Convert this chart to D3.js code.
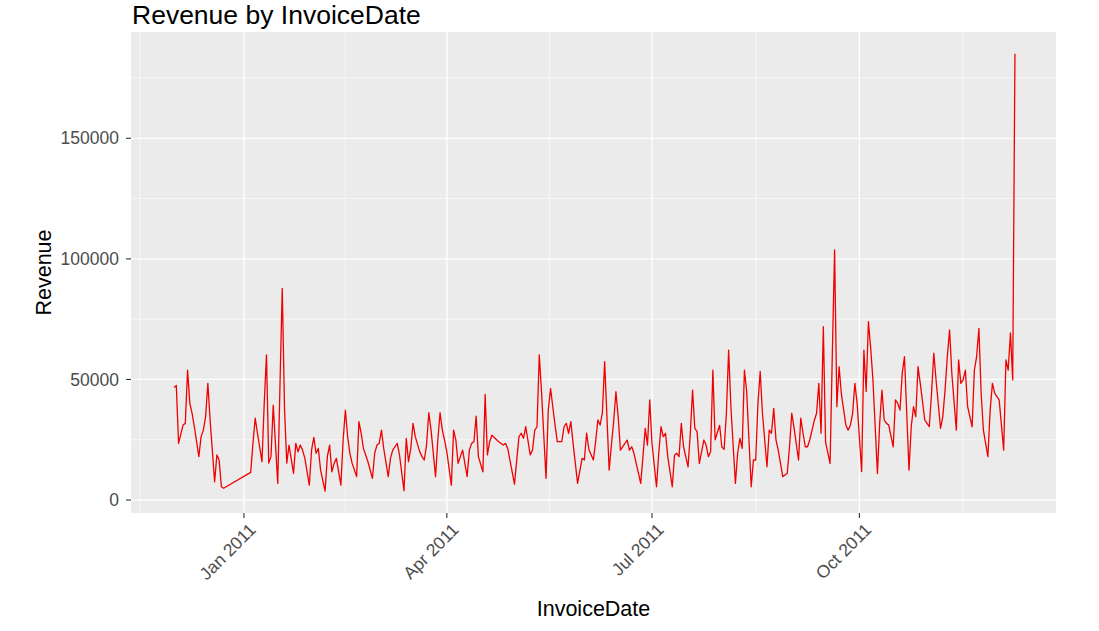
<!DOCTYPE html>
<html>
<head>
<meta charset="utf-8">
<script src="https://cdn.jsdelivr.net/npm/d3@7"></script>
<style>
  body { margin: 0; background: #ffffff; }
  text { font-family: "Liberation Sans", Arial, sans-serif; }
</style>
</head>
<body>
<svg id="chart" width="1099" height="631"></svg>
<script>
// ---------------- DATA (daily revenue) ----------------
const rev2010Dec = [46700, 47500, 23500, 31100, 31800, 53900, 40100, 35900, 30400, 18000,
                    26300, 29000, 34500, 48400, 33200, 7600, 18700, 16600, 5500, 4900];
const rev2011Jan = [11500, 23500, 34000, 27700, 15900, 40000, 60200, 15300, 18000, 39400,
                    6900, 48000, 87800, 38000, 15300, 22800, 11100, 23500, 20000, 22800,
                    20700, 17400, 6200, 20700];
const rev2011Feb = [26000, 19400, 21400, 12400, 3700, 18000, 22800, 11700, 15200, 17300,
                    6200, 24900, 37300, 26300, 19400, 15200, 9700, 32500, 27700, 21400,
                    18700, 15900, 9000, 19400];
const rev2011Mar = [22800, 23500, 29000, 21400, 9700, 17300, 20700, 22100, 23500, 18700,
                    3900, 25600, 15900, 21400, 31800, 26300, 20000, 18000, 16600, 22800,
                    36200, 29000, 9700, 24900, 36200, 29000, 24900];
const rev2011Apr = [20000, 6200, 29000, 24900, 15200, 18000, 20700, 9700, 20700, 23500,
                    24200, 34800, 18000, 11700, 43800, 18700, 24200, 26900, 24200, 22800,
                    23500, 21400];
const rev2011May = [6600, 26300, 27700, 25600, 30400, 18700, 20700, 29000, 30400, 60200,
                    44900, 9000, 37300, 46300, 38700, 31100, 24200, 24200, 30400, 31800,
                    27700, 32500, 23500, 6900, 17300];
const rev2011Jun = [16600, 27700, 21000, 16600, 24200, 33200, 31100, 36200, 57400, 12400,
                    22800, 32500, 44900, 34600, 20700, 23500, 24900, 20700, 22100, 19400,
                    15200, 6900, 18000, 29700, 22800, 41500];
const rev2011Jul = [23500, 5500, 19400, 30400, 26300, 27700, 18000, 5500, 18700, 19400,
                    18000, 31800, 22100, 13800, 27700, 45600, 29700, 28400, 15200, 24900,
                    22800, 18000, 20000, 53900, 25000, 31000];
const rev2011Aug = [22000, 21000, 36000, 62200, 38700, 6900, 19400, 25600, 21400, 53900,
                    45000, 5500, 16600, 16600, 40100, 53300, 36000, 13800, 29000, 27700,
                    38000, 24900, 20700, 9700, 11100, 22100];
const rev2011Sep = [36000, 30000, 16600, 34000, 27700, 22100, 22100, 25000, 33000, 36000,
                    48400, 27700, 71900, 24000, 15200, 60900, 103700, 38700, 55300, 44000,
                    31100, 29000, 31000, 36000, 48400, 40000];
const rev2011Oct = [11800, 62200, 45000, 74000, 63000, 50000, 11000, 31800, 45600, 33200,
                    31800, 31100, 22100, 41500, 40100, 37300, 52500, 59500, 12400, 30400,
                    38700, 34600, 55300, 48400, 33200, 31800];
const rev2011Nov = [30400, 44300, 60900, 49800, 29700, 34600, 45600, 59500, 70500, 52500,
                    29000, 58100, 48400, 49800, 53900, 38700, 30400, 53900, 59500, 71200,
                    44300, 29000, 18000, 37300, 48400, 44300];
const rev2011Dec = [42900, 41500, 20700, 58100, 53900, 69300, 49800, 185000];

// months the arrays belong to (trading days: no Saturdays, no closed days)
const monthKeys = ["2010-12", "2011-01", "2011-02", "2011-03", "2011-04", "2011-05",
                   "2011-06", "2011-07", "2011-08", "2011-09", "2011-10", "2011-11", "2011-12"];
const monthValues = [rev2010Dec, rev2011Jan, rev2011Feb, rev2011Mar, rev2011Apr, rev2011May,
                     rev2011Jun, rev2011Jul, rev2011Aug, rev2011Sep, rev2011Oct, rev2011Nov, rev2011Dec];
const closedDays = ["2010-12-24", "2010-12-25", "2010-12-26", "2010-12-27", "2010-12-28",
                    "2010-12-29", "2010-12-30", "2010-12-31", "2011-01-01", "2011-01-02",
                    "2011-01-03", "2011-04-22", "2011-04-25", "2011-04-29", "2011-05-02",
                    "2011-05-30", "2011-08-29"];

const xTickDates  = ["2011-01-01", "2011-04-01", "2011-07-01", "2011-10-01"];
const xTickLabels = ["Jan 2011", "Apr 2011", "Jul 2011", "Oct 2011"];
const xBreakBounds = ["2010-10-01", "2012-01-01"];
const yTickValues = [0, 50000, 100000, 150000];
const yTickLabels = ["0", "50000", "100000", "150000"];
const yMinorValues = [25000, 75000, 125000, 175000];

const titleText = "Revenue by InvoiceDate";
const xTitle = "InvoiceDate";
const yTitle = "Revenue";

// ---------------- BUILD ROWS ----------------
const parse = d3.utcParse("%Y-%m-%d");
const fmt = d3.utcFormat("%Y-%m-%d");
const closed = new Set(closedDays);
const data = [];
monthKeys.forEach((ym, k) => {
  const vals = monthValues[k];
  const [yy, mm] = ym.split("-").map(Number);
  let i = 0;
  for (let d = 1; d <= 31 && i < vals.length; d++) {
    const dt = new Date(Date.UTC(yy, mm - 1, d));
    if (dt.getUTCMonth() !== mm - 1) break;
    if (dt.getUTCDay() === 6 || closed.has(fmt(dt))) continue;
    data.push({ date: dt, value: vals[i++] });
  }
});

// ---------------- LAYOUT ----------------
const panel = { left: 131, right: 1056, top: 32, bottom: 513 };
const svg = d3.select("#chart");

const xExt = d3.extent(data, d => d.date);
const xPad = (xExt[1] - xExt[0]) * 0.05;
const x = d3.scaleUtc()
  .domain([new Date(+xExt[0] - xPad), new Date(+xExt[1] + xPad)])
  .range([panel.left + 1, panel.right + 1]);

const yExt = d3.extent(data, d => d.value);
const yPad = (yExt[1] - yExt[0]) * 0.05;
const y = d3.scaleLinear()
  .domain([yExt[0] - yPad, yExt[1] + yPad])
  .range([panel.bottom, panel.top]);

// panel background
svg.append("rect")
  .attr("x", panel.left).attr("y", panel.top)
  .attr("width", panel.right - panel.left)
  .attr("height", panel.bottom - panel.top)
  .attr("fill", "#EBEBEB");

// minor grid
const majorDates = xTickDates.map(parse);
const allBreaks = [parse(xBreakBounds[0]), ...majorDates, parse(xBreakBounds[1])];
const minorDates = d3.pairs(allBreaks).map(([a, b]) => new Date((+a + +b) / 2))
  .filter(d => d >= x.domain()[0] && d <= x.domain()[1]);

const grid = svg.append("g");
grid.selectAll(".ymin").data(yMinorValues).join("line")
  .attr("x1", panel.left).attr("x2", panel.right)
  .attr("y1", d => y(d)).attr("y2", d => y(d))
  .attr("stroke", "#ffffff").attr("stroke-width", 0.6);
grid.selectAll(".xmin").data(minorDates).join("line")
  .attr("y1", panel.top).attr("y2", panel.bottom)
  .attr("x1", d => x(d)).attr("x2", d => x(d))
  .attr("stroke", "#ffffff").attr("stroke-width", 0.6);
// major grid
grid.selectAll(".ymaj").data(yTickValues).join("line")
  .attr("x1", panel.left).attr("x2", panel.right)
  .attr("y1", d => y(d)).attr("y2", d => y(d))
  .attr("stroke", "#ffffff").attr("stroke-width", 1.3);
grid.selectAll(".xmaj").data(majorDates).join("line")
  .attr("y1", panel.top).attr("y2", panel.bottom)
  .attr("x1", d => x(d)).attr("x2", d => x(d))
  .attr("stroke", "#ffffff").attr("stroke-width", 1.3);

// line
const line = d3.line().x(d => x(d.date)).y(d => y(d.value));
svg.append("path")
  .datum(data)
  .attr("d", line)
  .attr("fill", "none")
  .attr("stroke", "#F00000")
  .attr("stroke-width", 1.3)
  .attr("stroke-linejoin", "round");

// y axis ticks + labels
const yAxis = svg.append("g");
yAxis.selectAll("line").data(yTickValues).join("line")
  .attr("x1", panel.left - 5).attr("x2", panel.left)
  .attr("y1", d => y(d)).attr("y2", d => y(d))
  .attr("stroke", "#333333").attr("stroke-width", 1.1);
yAxis.selectAll("text").data(yTickValues).join("text")
  .attr("x", panel.left - 12)
  .attr("y", d => y(d))
  .attr("dy", "0.35em")
  .attr("text-anchor", "end")
  .attr("font-size", "17.5px")
  .attr("fill", "#4D4D4D")
  .text((d, i) => yTickLabels[i]);

// x axis ticks + labels
const xAxis = svg.append("g");
xAxis.selectAll("line").data(majorDates).join("line")
  .attr("x1", d => x(d)).attr("x2", d => x(d))
  .attr("y1", panel.bottom).attr("y2", panel.bottom + 5)
  .attr("stroke", "#333333").attr("stroke-width", 1.1);
xAxis.selectAll("text").data(majorDates).join("text")
  .attr("transform", d => `translate(${x(d) + 4},${panel.bottom + 9}) rotate(-45)`)
  .attr("dy", "0.72em")
  .attr("text-anchor", "end")
  .attr("font-size", "17.5px")
  .attr("fill", "#4D4D4D")
  .text((d, i) => xTickLabels[i]);

// titles
svg.append("text")
  .attr("x", 132).attr("y", 24)
  .attr("font-size", "26.5px")
  .attr("fill", "#000000")
  .text(titleText);

svg.append("text")
  .attr("x", (panel.left + panel.right) / 2)
  .attr("y", 616)
  .attr("text-anchor", "middle")
  .attr("font-size", "21.5px")
  .attr("fill", "#000000")
  .text(xTitle);

svg.append("text")
  .attr("transform", `translate(51,${(panel.top + panel.bottom) / 2}) rotate(-90)`)
  .attr("text-anchor", "middle")
  .attr("font-size", "21.5px")
  .attr("fill", "#000000")
  .text(yTitle);
</script>
</body>
</html>
